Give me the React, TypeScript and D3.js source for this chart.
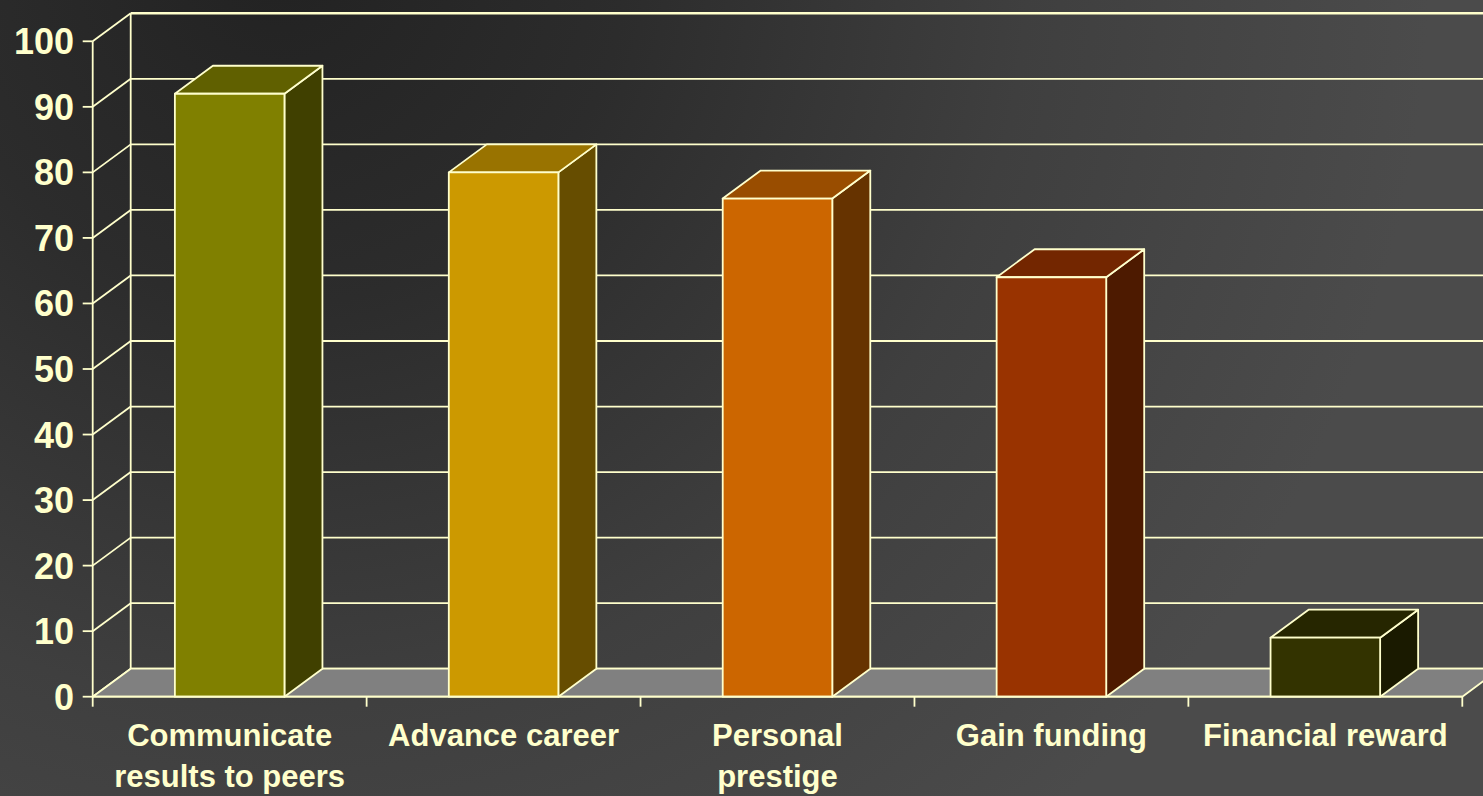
import React from "react";
import * as d3 from "d3";

const categories: string[][] = [
  ["Communicate", "results to peers"],
  ["Advance career"],
  ["Personal", "prestige"],
  ["Gain funding"],
  ["Financial reward"],
];
const values: number[] = [92, 80, 76, 64, 9];
const barColors: string[] = ["#808000", "#CC9900", "#CC6600", "#993300", "#333300"];
const yTicks: number[] = [0, 10, 20, 30, 40, 50, 60, 70, 80, 90, 100];

const W = 1483;
const H = 796;
const X0 = 92.7;
const X1 = 1462.3;
const DX = 38;
const DY = -28;
const LINE = "#FFFFCC";

function shade(c: string, k: number): string {
  const col = d3.rgb(c);
  return d3.rgb(col.r * k, col.g * k, col.b * k).formatHex();
}

export default function App() {
  const y = d3.scaleLinear().domain([0, 100]).range([696.7, 41.3]);
  const keys = categories.map((c) => c.join(" "));
  const x = d3.scaleBand<string>().domain(keys).range([X0, X1]).paddingInner(0.6).paddingOuter(0.3);
  const xt = d3.scaleBand<string>().domain(keys).range([X0, X1]).padding(0);
  const y0 = y(0);
  const floor = `M${X0},${y0} L${X1},${y0} L${X1 + DX},${y0 + DY} L${X0 + DX},${y0 + DY} Z`;

  return (
    <svg width={W} height={H} style={{ position: "absolute", left: 0, top: 0, display: "block" }}
      fontFamily="'Liberation Sans', Arial, sans-serif">
      <defs>
        <radialGradient id="bg" gradientUnits="userSpaceOnUse" cx={280} cy={-40} r={1150}>
          <stop offset="0" stopColor="#222222" />
          <stop offset="0.3" stopColor="#2c2c2c" />
          <stop offset="0.65" stopColor="#3f3f3f" />
          <stop offset="1" stopColor="#4b4b4b" />
        </radialGradient>
        <clipPath id="clip">
          <rect x={0} y={0} width={W} height={H} />
        </clipPath>
      </defs>
      <rect x={0} y={0} width={W} height={H} fill="url(#bg)" />
      <g clipPath="url(#clip)">
        {yTicks.map((t) => (
          <line key={"bg" + t} x1={X0 + DX} x2={X1 + DX + 40} y1={y(t) + DY} y2={y(t) + DY}
            stroke={LINE} strokeWidth={t === 100 ? 2.6 : 1.8} />
        ))}
        {yTicks.map((t) => (
          <line key={"lw" + t} x1={X0} x2={X0 + DX} y1={y(t)} y2={y(t) + DY} stroke={LINE} strokeWidth={1.8} />
        ))}
        <line x1={X0 + DX} x2={X0 + DX} y1={y(0) + DY} y2={y(100) + DY} stroke={LINE} strokeWidth={1.8} />
        <line x1={X0} x2={X0} y1={y(0)} y2={y(100)} stroke={LINE} strokeWidth={1.8} />
        <path d={floor} fill="#808080" stroke={LINE} strokeWidth={1.8} strokeLinejoin="round" />
        {keys.map((k, i) => {
          const bx = x(k) as number;
          const bw = x.bandwidth();
          const top = y(values[i]);
          const front = `M${bx},${y0} L${bx + bw},${y0} L${bx + bw},${top} L${bx},${top} Z`;
          const topFace = `M${bx},${top} L${bx + bw},${top} L${bx + bw + DX},${top + DY} L${bx + DX},${top + DY} Z`;
          const side = `M${bx + bw},${y0} L${bx + bw + DX},${y0 + DY} L${bx + bw + DX},${top + DY} L${bx + bw},${top} Z`;
          const c = barColors[i];
          return (
            <g key={k} stroke={LINE} strokeWidth={1.8} strokeLinejoin="round">
              <path d={side} fill={shade(c, 0.5)} />
              <path d={topFace} fill={shade(c, 0.75)} />
              <path d={front} fill={c} />
            </g>
          );
        })}
        <line x1={X0} x2={X1} y1={y0} y2={y0} stroke={LINE} strokeWidth={1.8} />
        {[...keys.map((k) => xt(k) as number), X1].map((tx, i) => (
          <line key={"xt" + i} x1={tx} x2={tx} y1={y0} y2={y0 + 10} stroke={LINE} strokeWidth={1.8} />
        ))}
        {yTicks.map((t) => (
          <line key={"yt" + t} x1={X0 - 10} x2={X0} y1={y(t)} y2={y(t)} stroke={LINE} strokeWidth={1.8} />
        ))}
      </g>
      {yTicks.map((t) => (
        <text key={"yl" + t} x={74} y={y(t)} dy="0.36em" textAnchor="end" fill={LINE}
          fontSize={36} fontWeight="bold">{t}</text>
      ))}
      {keys.map((k, i) => {
        const cx = (x(k) as number) + x.bandwidth() / 2;
        return (
          <text key={"xl" + k} x={cx} y={746} textAnchor="middle" fill={LINE} fontSize={31} fontWeight="bold">
            {categories[i].map((line, j) => (
              <tspan key={j} x={cx} y={746 + j * 40.5}>{line}</tspan>
            ))}
          </text>
        );
      })}
    </svg>
  );
}
